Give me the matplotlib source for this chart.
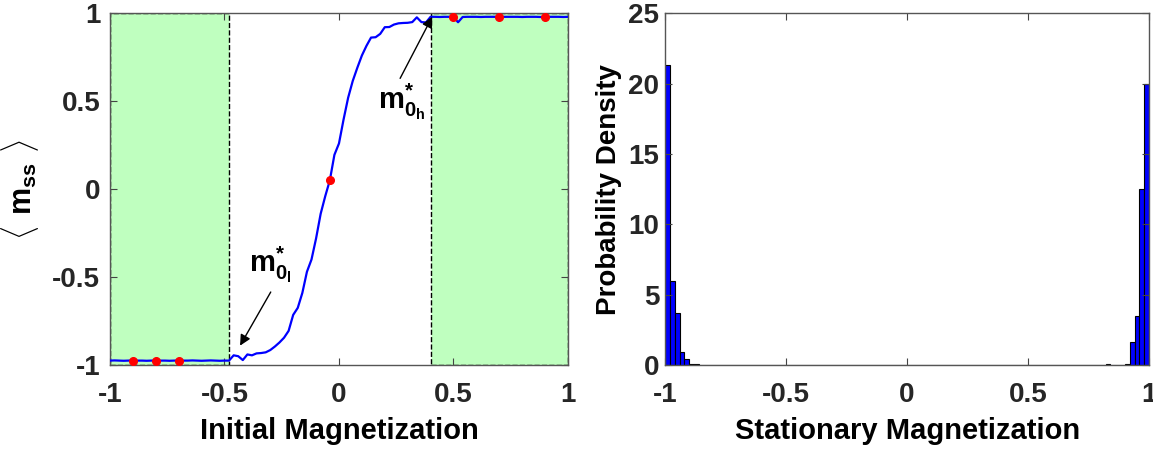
import numpy as np
import matplotlib.pyplot as plt
from matplotlib.patches import Rectangle

plt.rcParams['font.family'] = ['Liberation Sans', 'DejaVu Sans']
plt.rcParams['font.weight'] = 'bold'
plt.rcParams['mathtext.fontset'] = 'custom'
plt.rcParams['mathtext.bf'] = 'Liberation Sans:bold'
plt.rcParams['mathtext.rm'] = 'Liberation Sans:bold'

# left panel: mean stationary magnetization vs initial magnetization
m0 = np.linspace(-1, 1, 101)
m_ss = [-0.975, -0.974, -0.975, -0.976, -0.975, -0.974, -0.975, -0.975, -0.976,
        -0.975, -0.974, -0.975, -0.975, -0.976, -0.975, -0.974, -0.975, -0.975,
        -0.974, -0.975, -0.976, -0.975, -0.974, -0.975, -0.976, -0.975, -0.975,
        -0.945, -0.950, -0.972, -0.940, -0.945, -0.934, -0.932, -0.928, -0.915,
        -0.895, -0.872, -0.845, -0.806, -0.715, -0.675, -0.590, -0.470, -0.400,
        -0.280, -0.140, -0.040, 0.050, 0.195, 0.260, 0.396, 0.520, 0.615,
        0.690, 0.760, 0.815, 0.862, 0.864, 0.883, 0.921, 0.922, 0.936,
        0.943, 0.945, 0.946, 0.950, 0.977, 0.950, 0.948, 0.980,
        0.980, 0.979, 0.980, 0.980, 0.980, 0.949, 0.979, 0.980, 0.980,
        0.980, 0.979, 0.980, 0.980, 0.980, 0.979, 0.980, 0.980, 0.980,
        0.980, 0.979, 0.980, 0.980, 0.980, 0.979, 0.980, 0.980, 0.980,
        0.980, 0.979, 0.980]
dots_x = [-0.9, -0.8, -0.7, -0.04, 0.5, 0.7, 0.9]
dots_y = [-0.98, -0.98, -0.98, 0.05, 0.98, 0.98, 0.98]
m0_low = -0.48
m0_high = 0.40

# right panel: histogram of stationary magnetization (100 bins on [-1, 1])
bin_edges = np.linspace(-1, 1, 101)
density = np.zeros(100)
density[:7] = [21.3, 6.0, 3.7, 0.95, 0.45, 0.07, 0.07]
density[91] = 0.05
density[95:] = [0.1, 1.6, 3.5, 12.5, 20.0]

fig = plt.figure(figsize=(11.53, 4.51), dpi=100)
ax1 = fig.add_axes([0.0954, 0.1907, 0.3972, 0.7798])
ax2 = fig.add_axes([0.5768, 0.1907, 0.4198, 0.7798])

fs = 20
for r in [(-1, m0_low), (m0_high, 1)]:
    ax1.add_patch(Rectangle((r[0], -1), r[1] - r[0], 2, facecolor='#bfffbf',
                            edgecolor='black', linestyle='--', lw=1, zorder=1))
ax1.plot(m0, m_ss, color='blue', lw=1.6, zorder=3)
ax1.plot(dots_x, dots_y, 'o', color='red', ms=5.5, zorder=4)

arrow = dict(arrowstyle='-|>', color='black', lw=1, mutation_scale=16,
             shrinkA=0, shrinkB=0)
ax1.annotate('', xy=(-0.432, -0.89), xytext=(-0.298, -0.585),
             arrowprops=arrow, zorder=5)
ax1.text(-0.30, -0.43, r'$\mathbf{m^{*}_{0_{l}}}$', fontsize=21,
         ha='center', va='center')
ax1.annotate('', xy=(0.407, 0.98), xytext=(0.267, 0.63),
             arrowprops=arrow, zorder=5)
ax1.text(0.275, 0.50, r'$\mathbf{m^{*}_{0_{h}}}$', fontsize=21,
         ha='center', va='center')

ax1.set_xlim(-1, 1)
ax1.set_ylim(-1, 1)
ax1.set_xticks([-1, -0.5, 0, 0.5, 1])
ax1.set_yticks([-1, -0.5, 0, 0.5, 1])
ax1.set_xticklabels(['-1', '-0.5', '0', '0.5', '1'])
ax1.set_yticklabels(['-1', '-0.5', '0', '0.5', '1'])
ax1.set_xlabel('Initial Magnetization', fontsize=21, fontweight='bold',
               labelpad=7)
ax1.set_ylabel(r'$\langle\ \mathbf{m_{ss}}\ \rangle$', fontsize=fs + 2,
               labelpad=8)

centers = (bin_edges[:-1] + bin_edges[1:]) / 2
ax2.bar(centers, density, width=0.02, color='blue', edgecolor='black', lw=0.8)
ax2.set_xlim(-1, 1)
ax2.set_ylim(0, 25)
ax2.set_xticks([-1, -0.5, 0, 0.5, 1])
ax2.set_xticklabels(['-1', '-0.5', '0', '0.5', '1'])
ax2.set_yticks([0, 5, 10, 15, 20, 25])
ax2.set_xlabel('Stationary Magnetization', fontsize=21, fontweight='bold',
               labelpad=7)
ax2.set_ylabel('Probability Density', fontsize=fs, fontweight='bold',
               labelpad=5)

for ax in (ax1, ax2):
    ax.tick_params(direction='in', top=True, right=True, length=5,
                   labelsize=fs, color='#444444')
    ax.tick_params(axis='x', pad=12)
    ax.tick_params(axis='y', pad=7)
    for s in ax.spines.values():
        s.set_color('#555555')
        s.set_linewidth(1)
ax2.tick_params(axis='y', pad=4)
for ax in (ax1, ax2):
    for lab in ax.get_xticklabels() + ax.get_yticklabels():
        lab.set_fontweight('bold')
        lab.set_color('#262626')

fig.savefig('out.png', dpi=100)
